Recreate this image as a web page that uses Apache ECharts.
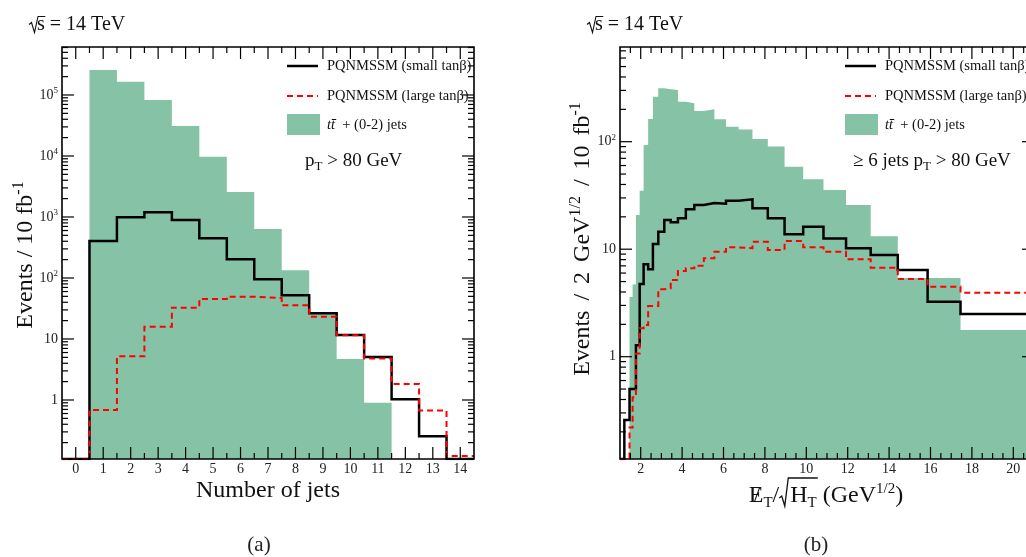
<!DOCTYPE html>
<html>
<head>
<meta charset="utf-8">
<script src="https://cdn.jsdelivr.net/npm/echarts@6/dist/echarts.min.js"></script>
<style>
  html, body { margin: 0; padding: 0; background: #ffffff; }
  #chart { width: 1026px; height: 557px; }
</style>
</head>
<body>
<div id="chart"></div>
<script>
// ---------------- (a) number of jets with pT > 80 GeV ----------------
const jetBins = [0, 1, 2, 3, 4, 5, 6, 7, 8, 9, 10, 11, 12, 13, 14];
const jetTtbar = [0, 2.57e5, 1.65e5, 8.3e4, 3.1e4, 9.7e3, 2.57e3, 633, 134, 27, 4.7, 0.9, 0, 0, 0];
const jetSmallTanb = [0, 405, 988, 1195, 890, 447, 202, 95, 52, 26.4, 11.6, 5.07, 1.03, 0.254, 0];
const jetLargeTanb = [0, 0.686, 5.2, 15.9, 32.6, 45.3, 49.4, 47, 35.7, 23.2, 11.5, 4.8, 1.83, 0.67, 0.121];
const jetTickLabels = [0, 1, 2, 3, 4, 5, 6, 7, 8, 9, 10, 11, 12, 13, 14];
const jetYTickLabels = [1, 10, 1e2, 1e3, 1e4, 1e5];

// ---------------- (b) missing ET / sqrt(HT), >= 6 jets ----------------
const metEdges = [1.00, 1.10, 1.21, 1.33, 1.46, 1.61, 1.77, 1.95, 2.14, 2.36, 2.59, 2.85, 3.14, 3.45,
                  3.80, 4.18, 4.59, 5.05, 5.56, 6.12, 6.73, 7.40, 8.14, 8.95, 9.85, 10.83, 11.92,
                  13.11, 14.42, 15.86, 17.45, 19.19, 21.11];
const metTtbar = [0, 0, 0, 0, 3.6, 4.7, 20.8, 35, 93, 163, 262, 314, 307, 303, 235, 228, 193, 200,
                  162, 138, 130, 106, 90, 58.5, 44.7, 35.5, 25.8, 13.2, 5.4, 5.4, 1.77, 1.77];
const metSmallTanb = [0, 0, 0.258, 0.258, 0.5, 0.5, 1.28, 4.75, 7.24, 6.5, 11.2, 14.5, 18.7, 17.8,
                      19.4, 23.5, 25.8, 26.9, 26.5, 28.3, 29.1, 24, 19.4, 13.8, 16.2, 12.6, 10.2,
                      8.83, 6.4, 3.25, 2.49, 2.49];
const metLargeTanb = [0, 0, 0, 0, 0.22, 0.42, 1.07, 1.84, 1.97, 2.96, 2.96, 4.24, 4.33, 5.17, 6.27,
                      6.64, 7.03, 8.23, 9.48, 10.4, 10.2, 11.7, 9.84, 11.9, 10.4, 9.48, 8.05, 6.73,
                      5.28, 4.48, 3.94, 3.94];
const metTickLabels = [2, 4, 6, 8, 10, 12, 14, 16, 18, 20];
const metYTickLabels = [1, 10, 1e2];

// axis ranges
const A_X = [-0.5, 14.5], A_Y = [0.1078, 6.12e5];
const B_X = [1, 21], B_Y = [0.1118, 760];

const SERIF = '"Liberation Serif", "DejaVu Serif", serif';
const GREEN = '#86c2a5';
const RED = '#ff0000';
const INK = '#111111';

// unit-width bins centred on integers -> bin edges
function centresToEdges(c) {
  const e = c.map(v => v - 0.5);
  e.push(c[c.length - 1] + 0.5);
  return e;
}
// histogram outline as points for a step:'end' line; empty bins sit on the axis floor
function stepData(edges, vals, floor) {
  const pts = vals.map((v, i) => [edges[i], Math.max(v, floor)]);
  pts.push([edges[edges.length - 1], Math.max(vals[vals.length - 1], floor)]);
  return pts;
}

// tick marks: [x, y, orientation(0 = on x edges, 1 = on y edges), length]
function linTicks(range, yRef, step, isMajor) {
  const out = [];
  for (let v = range[0]; v <= range[1] + 1e-9; v += step) {
    const r = Math.round(v * 100) / 100;
    if (r <= range[0] + 1e-9 || r >= range[1] - 1e-9) continue;
    out.push([r, yRef, 0, isMajor(r) ? 12 : 6]);
  }
  return out;
}
function logTicks(range, xRef) {
  const out = [];
  const d0 = Math.floor(Math.log10(range[0])), d1 = Math.ceil(Math.log10(range[1]));
  for (let d = d0; d <= d1; d++) {
    for (let m = 1; m <= 9; m++) {
      const v = m * Math.pow(10, d);
      if (v > range[0] && v < range[1]) out.push([xRef, v, 1, m === 1 ? 12 : 6]);
    }
  }
  return out;
}

function seg(x1, y1, x2, y2, w) {
  return { type: 'line', shape: { x1, y1, x2, y2 }, style: { stroke: '#000', lineWidth: w || 1.2 } };
}

function renderTicks(params, api) {
  const cs = params.coordSys;
  const orient = api.value(2), len = api.value(3);
  const children = [];
  if (orient === 0) {
    const x = api.coord([api.value(0), api.value(1)])[0];
    children.push(seg(x, cs.y + cs.height, x, cs.y + cs.height - len));
    children.push(seg(x, cs.y, x, cs.y + len));
  } else {
    const y = api.coord([api.value(0), api.value(1)])[1];
    children.push(seg(cs.x, y, cs.x + len, y));
    children.push(seg(cs.x + cs.width, y, cs.x + cs.width - len, y));
  }
  if (params.dataIndex === 0) {
    children.push({ type: 'rect', shape: { x: cs.x, y: cs.y, width: cs.width, height: cs.height },
                    style: { fill: 'none', stroke: '#000', lineWidth: 1.6 } });
  }
  return { type: 'group', children };
}

const supRich = {
  b: { fontSize: 14, fontFamily: SERIF, lineHeight: 18, fill: '#222' },
  s: { fontSize: 9, fontFamily: SERIF, lineHeight: 9, verticalAlign: 'top', fill: '#222' }
};
function logLabel(v) {
  const e = Math.round(Math.log10(v));
  if (e === 0) return '{b|1}';
  if (e === 1) return '{b|10}';
  return '{b|10}{s|' + e + '}';
}
function renderLabels(params, api) {
  const cs = params.coordSys;
  const orient = api.value(2);
  if (orient === 0) {
    const v = api.value(0);
    const x = api.coord([v, api.value(1)])[0];
    return { type: 'text', x, y: cs.y + cs.height + 3,
             style: { text: String(v), fontSize: 14, fontFamily: SERIF, fill: '#222',
                      align: 'center', verticalAlign: 'top' } };
  }
  const v = api.value(1);
  const y = api.coord([api.value(0), v])[1];
  return { type: 'text', x: cs.x - 4, y,
           style: { text: logLabel(v), rich: supRich, align: 'right', verticalAlign: 'middle' } };
}

function histSeries(gi, data, kind) {
  const base = { type: 'line', xAxisIndex: gi, yAxisIndex: gi, step: 'end', data,
                 symbol: 'none', silent: true, animation: false, clip: true };
  if (kind === 'fill') {
    return Object.assign(base, { z: 1, lineStyle: { opacity: 0, width: 0 },
      areaStyle: { color: GREEN, opacity: 1, origin: 'start' } });
  }
  if (kind === 'small') {
    return Object.assign(base, { z: 3, lineStyle: { color: '#000', width: 2.5, join: 'miter', cap: 'butt' } });
  }
  return Object.assign(base, { z: 4, lineStyle: { color: RED, width: 2, type: [6, 4], join: 'miter', cap: 'butt' } });
}

const jetEdges = centresToEdges(jetBins);

const tickDataA = linTicks(A_X, A_Y[0], 0.5, v => Number.isInteger(v)).concat(logTicks(A_Y, A_X[0]));
const tickDataB = linTicks(B_X, B_Y[0], 0.5, v => Number.isInteger(v) && v % 2 === 0).concat(logTicks(B_Y, B_X[0]));
const labelDataA = jetTickLabels.map(v => [v, A_Y[0], 0]).concat(jetYTickLabels.map(v => [A_X[0], v, 1]));
const labelDataB = metTickLabels.map(v => [v, B_Y[0], 0]).concat(metYTickLabels.map(v => [B_X[0], v, 1]));

// ---------- free text: titles, legends, captions ----------
const measureCtx = document.createElement('canvas').getContext('2d');
function textWidth(str, size, italic) {
  measureCtx.font = (italic ? 'italic ' : '') + size + 'px ' + SERIF;
  return measureCtx.measureText(str).width;
}

// Lay a run of pieces along one baseline. Piece: {t, s, dy} for text, {gap} for blank space.
// Returns the graphic elements and the horizontal extent of every piece.
function runLine(x, baseline, pieces, align) {
  const widths = pieces.map(p => (p.gap !== undefined ? p.gap : textWidth(p.t, p.s, p.it)));
  const total = widths.reduce((a, b) => a + b, 0);
  let cx = align === 'center' ? x - total / 2 : x;
  const els = [], spans = [];
  pieces.forEach((p, i) => {
    spans.push([cx, cx + widths[i]]);
    if (p.gap === undefined) {
      els.push({ type: 'text', x: cx, y: baseline + (p.dy || 0) - 0.3375 * p.s, silent: true, z: 20,
                 style: { text: p.t, fontSize: p.s, fontFamily: SERIF, fontStyle: p.it ? 'italic' : 'normal',
                          fill: INK, align: 'left', verticalAlign: 'middle' } });
    }
    cx += widths[i];
  });
  return { els, spans };
}
// radical sign whose bar runs from x0 to x1 at height top
function radical(x0, x1, baseline, top, lw) {
  return { type: 'polyline', silent: true, z: 20,
           shape: { points: [[x0, baseline - 7], [x0 + 2.5, baseline - 9], [x0 + 5.5, baseline + 1],
                             [x0 + 9, top], [x1, top]] },
           style: { stroke: INK, lineWidth: lw || 1.1, fill: null, lineJoin: 'miter' } };
}

const titleRich = {
  b: { fontSize: 24, fontFamily: SERIF, lineHeight: 30, fill: INK },
  g: { fontSize: 24, fontFamily: SERIF, lineHeight: 30, width: 10 },
  s: { fontSize: 16, fontFamily: SERIF, lineHeight: 16, verticalAlign: 'top', fill: INK }
};
const noteRich = {
  b: { fontSize: 19, fontFamily: SERIF, lineHeight: 24, fill: INK },
  u: { fontSize: 13, fontFamily: SERIF, lineHeight: 13, verticalAlign: 'bottom', fill: INK }
};
const legRich = {
  b: { fontSize: 14.5, fontFamily: SERIF, lineHeight: 16, fill: INK },
  i: { fontSize: 14.5, fontFamily: SERIF, fontStyle: 'italic', lineHeight: 16, fill: INK }
};

function text(x, y, str, rich, align, rotation) {
  return { type: 'text', x, y, silent: true, z: 20, rotation: rotation || 0,
           style: { text: str, rich, align: align || 'left', verticalAlign: 'middle' } };
}
function legend(x0) {
  return [
    { type: 'line', z: 20, shape: { x1: x0, y1: 66, x2: x0 + 31, y2: 66 }, style: { stroke: '#000', lineWidth: 2.5 } },
    text(x0 + 40, 66, '{b|PQNMSSM (small tanβ)}', legRich),
    { type: 'line', z: 20, shape: { x1: x0, y1: 96, x2: x0 + 31, y2: 96 }, style: { stroke: RED, lineWidth: 2, lineDash: [6, 4] } },
    text(x0 + 40, 96, '{b|PQNMSSM (large tanβ)}', legRich),
    { type: 'rect', z: 20, shape: { x: x0, y: 114, width: 33, height: 21 }, style: { fill: GREEN } },
    text(x0 + 40, 125, '{i|tt\u0304}{b|  + (0-2) jets}', legRich)
  ];
}

// "√s = 14 TeV" with a drawn radical over s
function energyLabel(x) {
  const run = runLine(x + 8, 31.5, [{ t: 's', s: 20 }, { t: ' = 14 TeV', s: 20 }], 'left');
  return run.els.concat([radical(x, run.spans[0][1] + 0.5, 31.5, 16.5, 1.1)]);
}

// x title of (b): E-slash_T / sqrt(H_T) (GeV^1/2)
function metTitle() {
  const base = 504;
  const run = runLine(826, base, [
    { t: 'E', s: 24 }, { t: 'T', s: 15, dy: 4 }, { t: '/', s: 24 }, { gap: 11 },
    { t: 'H', s: 24 }, { t: 'T', s: 15, dy: 4 }, { t: ' (GeV', s: 24 }, { t: '1/2', s: 15, dy: -10 },
    { t: ')', s: 24 }
  ], 'center');
  const e = run.spans[0];
  const slashW = textWidth('/', 24);
  const slash = { type: 'text', x: (e[0] + e[1]) / 2 - slashW / 2 + 1, y: base - 0.3375 * 24, silent: true, z: 21,
                  style: { text: '/', fontSize: 24, fontFamily: SERIF, fill: INK, align: 'left', verticalAlign: 'middle' } };
  const rad = radical(run.spans[3][0], run.spans[5][1] + 1, base + 1, 478, 1.3);
  return run.els.concat([slash, rad]);
}

const capRich = { b: { fontSize: 21, fontFamily: SERIF, fill: '#222' } };

const graphics = [].concat(
  energyLabel(29),
  energyLabel(587),
  [
    text(26, 255, '{b|Events / 10 fb}{s|-1}', titleRich, 'center', Math.PI / 2),
    text(268, 491, '{b|Number of jets}', titleRich, 'center'),
    text(583, 239, '{b|Events}{g| }{b|/}{g| }{b|2}{g| }{b|GeV}{s|1/2}{g| }{b|/}{g| }{b|10}{g| }{b|fb}{s|-1}',
         titleRich, 'center', Math.PI / 2),
    text(305, 161, '{b|p}{u|T}{b| > 80 GeV}', noteRich),
    text(853, 161, '{b|≥ 6 jets p}{u|T}{b| > 80 GeV}', noteRich),
    text(259, 545, '{b|(a)}', capRich, 'center'),
    text(816, 545, '{b|(b)}', capRich, 'center')
  ],
  metTitle(),
  legend(287),
  legend(845)
);

const chart = echarts.init(document.getElementById('chart'), null, { renderer: 'canvas' });
chart.setOption({
  animation: false,
  backgroundColor: '#ffffff',
  grid: [
    { left: 62, top: 47, width: 412, height: 412, outerBoundsMode: 'none', containLabel: false },
    { left: 620, top: 47, width: 414, height: 412, outerBoundsMode: 'none', containLabel: false }
  ],
  xAxis: [
    { type: 'value', gridIndex: 0, min: A_X[0], max: A_X[1], show: false },
    { type: 'value', gridIndex: 1, min: B_X[0], max: B_X[1], show: false }
  ],
  yAxis: [
    { type: 'log', logBase: 10, gridIndex: 0, min: A_Y[0], max: A_Y[1], show: false },
    { type: 'log', logBase: 10, gridIndex: 1, min: B_Y[0], max: B_Y[1], show: false }
  ],
  series: [
    histSeries(0, stepData(jetEdges, jetTtbar, A_Y[0]), 'fill'),
    histSeries(0, stepData(jetEdges, jetSmallTanb, A_Y[0]), 'small'),
    histSeries(0, stepData(jetEdges, jetLargeTanb, A_Y[0]), 'large'),
    histSeries(1, stepData(metEdges, metTtbar, B_Y[0]), 'fill'),
    histSeries(1, stepData(metEdges, metSmallTanb, B_Y[0]), 'small'),
    histSeries(1, stepData(metEdges, metLargeTanb, B_Y[0]), 'large'),
    { type: 'custom', xAxisIndex: 0, yAxisIndex: 0, data: tickDataA, renderItem: renderTicks, z: 10, silent: true },
    { type: 'custom', xAxisIndex: 1, yAxisIndex: 1, data: tickDataB, renderItem: renderTicks, z: 10, silent: true },
    { type: 'custom', xAxisIndex: 0, yAxisIndex: 0, data: labelDataA, renderItem: renderLabels, z: 10, silent: true, clip: false },
    { type: 'custom', xAxisIndex: 1, yAxisIndex: 1, data: labelDataB, renderItem: renderLabels, z: 10, silent: true, clip: false }
  ],
  graphic: graphics
});
</script>
</body>
</html>
